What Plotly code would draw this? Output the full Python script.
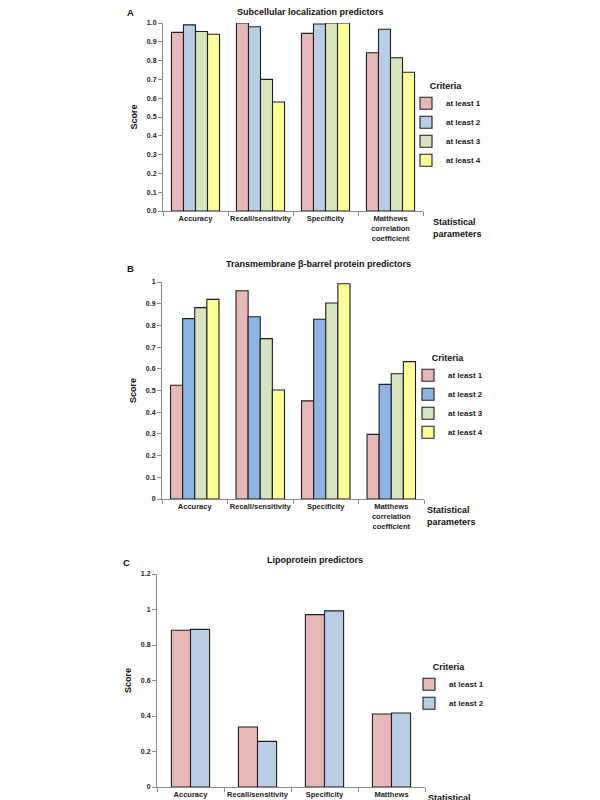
import plotly.graph_objects as go

categories = ["Accuracy", "Recall/sensitivity", "Specificity", "Matthews<br>correlation<br>coefficient"]
series_names_4 = ["at least 1", "at least 2", "at least 3", "at least 4"]
series_names_2 = ["at least 1", "at least 2"]

# Panel A: Subcellular localization predictors
a_values = [
    [0.950, 1.000, 0.945, 0.842],   # at least 1
    [0.990, 0.980, 0.995, 0.967],   # at least 2
    [0.955, 0.700, 1.000, 0.815],   # at least 3
    [0.940, 0.580, 1.000, 0.738],   # at least 4
]
# Panel B: Transmembrane beta-barrel protein predictors
b_values = [
    [0.524, 0.960, 0.452, 0.298],
    [0.831, 0.840, 0.828, 0.528],
    [0.882, 0.739, 0.903, 0.577],
    [0.920, 0.502, 0.992, 0.633],
]
# Panel C: Lipoprotein predictors
c_values = [
    [0.883, 0.338, 0.971, 0.411],
    [0.888, 0.257, 0.992, 0.417],
]

y_ticks_a = [0, 0.1, 0.2, 0.3, 0.4, 0.5, 0.6, 0.7, 0.8, 0.9, 1.0]

colors_a = ["#E6B9B8", "#B9CDE5", "#D7E4BD", "#FFFF99"]
colors_b = ["#E6B9B8", "#8DB4E2", "#D7E4BD", "#FFFF99"]
colors_c = ["#E6B9B8", "#B9CDE5"]

FONT = "Arial, Liberation Sans, sans-serif"
OFF = 8            # page body margin
W, H = 600 - OFF, 800 - OFF

fig = go.Figure()

for i, name in enumerate(series_names_4):
    fig.add_trace(go.Bar(x=categories, y=a_values[i], name=name, xaxis="x", yaxis="y",
                         marker=dict(color=colors_a[i], line=dict(color="#1e1e1e", width=1.1)),
                         legend="legend"))
for i, name in enumerate(series_names_4):
    fig.add_trace(go.Bar(x=categories, y=b_values[i], name=name, xaxis="x2", yaxis="y2",
                         marker=dict(color=colors_b[i], line=dict(color="#1e1e1e", width=1.1)),
                         legend="legend2"))
c_width = 0.285
for i, name in enumerate(series_names_2):
    fig.add_trace(go.Bar(x=categories, y=c_values[i], name=name, xaxis="x3", yaxis="y3",
                         width=c_width, offset=-c_width + i * c_width,
                         marker=dict(color=colors_c[i], line=dict(color="#1e1e1e", width=1.1)),
                         legend="legend3"))

def px_x(p):
    return (p - OFF) / W

def px_y(p):
    return 1 - (p - OFF) / H

axis_common = dict(showline=True, linecolor="#8a8a8a", linewidth=1, showgrid=False, zeroline=False,
                   ticks="outside", ticklen=4, tickcolor="#8a8a8a", automargin=False,
                   tickfont=dict(family=FONT, size=7, color="#222", weight="bold"))
xaxis_common = dict(axis_common, tickson="boundaries", tickangle=0,
                    tickfont=dict(family=FONT, size=7.5, color="#222", weight="bold"))
ytitle = dict(text="Score", font=dict(family=FONT, size=9, color="#111", weight="bold"), standoff=7)

leg_common = dict(font=dict(family=FONT, size=8, color="#222", weight="bold"),
                  bgcolor="rgba(0,0,0,0)", xanchor="left", yanchor="middle",
                  tracegroupgap=0, itemwidth=30)
leg_title = dict(text="Criteria", side="top center", font=dict(family=FONT, size=9, color="#111", weight="bold"))

fig.update_layout(
    width=W, height=H, autosize=False,
    margin=dict(l=0, r=0, t=0, b=0, autoexpand=False),
    paper_bgcolor="white", plot_bgcolor="white",
    barmode="group", bargap=0.26, bargroupgap=0,
    xaxis=dict(xaxis_common, domain=[px_x(163), px_x(423)], anchor="y"),
    yaxis=dict(axis_common, domain=[px_y(211), px_y(23)], anchor="x", range=[0, 1.0],
               tickvals=y_ticks_a, tickformat=".1f", title=ytitle),
    xaxis2=dict(xaxis_common, domain=[px_x(162), px_x(424)], anchor="y2"),
    yaxis2=dict(axis_common, domain=[px_y(499), px_y(282)], anchor="x2", range=[0, 1.0],
                dtick=0.1, title=ytitle),
    xaxis3=dict(xaxis_common, domain=[px_x(157), px_x(425)], anchor="y3"),
    yaxis3=dict(axis_common, domain=[px_y(787), px_y(574)], anchor="x3", range=[0, 1.2],
                dtick=0.2, title=ytitle),
    legend=dict(leg_common, x=px_x(406), y=px_y(126), title=leg_title),
    legend2=dict(leg_common, x=px_x(408), y=px_y(398), title=leg_title),
    legend3=dict(leg_common, x=px_x(409), y=px_y(688), title=leg_title),
    showlegend=True,
)

def ann(text, x, y, size=9, xanchor="center", yanchor="middle", align="center"):
    fig.add_annotation(text=text, x=px_x(x), y=px_y(y), xref="paper", yref="paper",
                       showarrow=False, xanchor=xanchor, yanchor=yanchor, align=align,
                       font=dict(family=FONT, size=size, color="#111", weight="bold"))

ann("A", 130, 12, size=9.5)
ann("Subcellular localization predictors", 310, 12)
ann("Statistical<br>parameters", 431, 228, xanchor="left", align="left")

ann("B", 130, 268, size=9.5)
ann("Transmembrane β-barrel protein predictors", 318, 264)
ann("Statistical<br>parameters", 425, 516, xanchor="left", align="left")

ann("C", 126, 562, size=9.5)
ann("Lipoprotein predictors", 315, 560)
ann("Statistical<br>parameters", 426, 804, xanchor="left", align="left")

fig.write_html("out.html")
